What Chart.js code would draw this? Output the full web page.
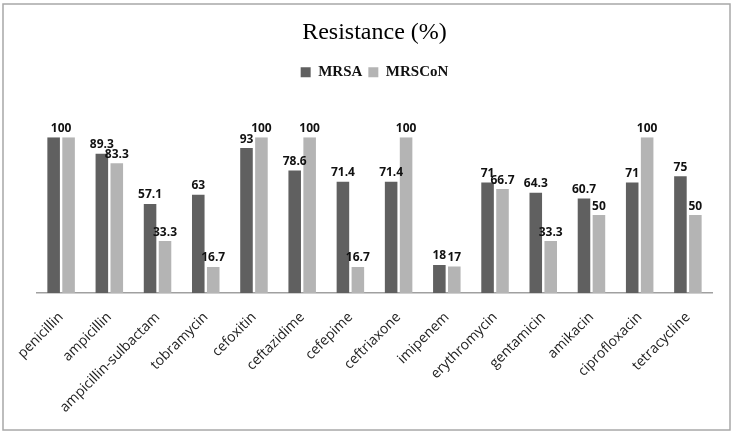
<!DOCTYPE html>
<html>
<head>
<meta charset="utf-8">
<script src="https://cdn.jsdelivr.net/npm/chart.js@4/dist/chart.umd.min.js"></script>
<style>
  html, body { margin: 0; padding: 0; background: #fff; }
  #wrap { width: 732px; height: 432px; }
</style>
</head>
<body>
<div id="wrap"><canvas id="resChart" width="732" height="432"></canvas></div>
<script>
var drugs = ['penicillin', 'ampicillin', 'ampicillin-sulbactam', 'tobramycin', 'cefoxitin',
	'ceftazidime', 'cefepime', 'ceftriaxone', 'imipenem', 'erythromycin',
	'gentamicin', 'amikacin', 'ciprofloxacin', 'tetracycline'];
var mrsa = [100, 89.3, 57.1, 63, 93, 78.6, 71.4, 71.4, 18, 71, 64.3, 60.7, 71, 75];
var mrscon = [100, 83.3, 33.3, 16.7, 100, 100, 16.7, 100, 17, 66.7, 33.3, 50, 100, 50];

var darkGrey = '#606060';
var lightGrey = '#b4b4b4';

// frame round the whole picture
var framePlugin = {
	id: 'frame',
	beforeDraw: function(chart) {
		var ctx = chart.ctx;
		ctx.save();
		ctx.fillStyle = '#fff';
		ctx.fillRect(0, 0, chart.width, chart.height);
		ctx.strokeStyle = '#a8a8a8';
		ctx.lineWidth = 1.5;
		ctx.strokeRect(3, 4, 727, 426);
		ctx.restore();
	}
};

// value labels above the bars (one shared label when both bars are equal)
var valueLabels = {
	id: 'valueLabels',
	afterDatasetsDraw: function(chart) {
		var ctx = chart.ctx;
		var a = chart.getDatasetMeta(0).data;
		var b = chart.getDatasetMeta(1).data;
		var va = chart.data.datasets[0].data;
		var vb = chart.data.datasets[1].data;
		ctx.save();
		ctx.font = 'bold 12px "Open Sans", sans-serif';
		ctx.fillStyle = '#111';
		ctx.textAlign = 'center';
		ctx.textBaseline = 'bottom';
		for(var j = 0; j < va.length; j++) {
			if(va[j] === vb[j]) {
				ctx.fillText(String(va[j]), (a[j].x + b[j].x) / 2, a[j].y - 3);
				continue;
			}
			ctx.fillText(String(va[j]), a[j].x, a[j].y - 3);
			ctx.fillText(String(vb[j]), b[j].x, b[j].y - 3);
		}
		ctx.restore();
	}
};

var context = document.getElementById('resChart').getContext('2d');

new Chart(context, {
	type: 'bar',
	data: {
		labels: drugs,
		datasets: [
			{
				label: 'MRSA',
				data: mrsa,
				backgroundColor: darkGrey,
				borderWidth: 0,
				categoryPercentage: 0.62,
				barPercentage: 0.84
			},
			{
				label: 'MRSCoN',
				data: mrscon,
				backgroundColor: lightGrey,
				borderWidth: 0,
				categoryPercentage: 0.62,
				barPercentage: 0.84
			}
		]
	},
	options: {
		responsive: false,
		animation: false,
		devicePixelRatio: 1,
		layout: {
			padding: { left: 37, right: 20, top: 0, bottom: 0 }
		},
		plugins: {
			title: {
				display: true,
				text: 'Resistance (%)',
				color: '#000',
				font: { family: '"Liberation Serif", serif', size: 24, weight: 'normal' },
				padding: { top: 18, bottom: 12 }
			},
			legend: {
				display: true,
				position: 'top',
				labels: {
					color: '#111',
					font: { family: '"Liberation Serif", serif', size: 15, weight: 'bold' },
					boxWidth: 10,
					boxHeight: 10,
					padding: 6
				}
			},
			tooltip: { enabled: false }
		},
		scales: {
			x: {
				position: 'bottom',
				grid: { display: false },
				border: { display: true, color: '#a0a0a0', width: 1.5 },
				ticks: {
					autoSkip: false,
					minRotation: 45,
					maxRotation: 45,
					padding: 8,
					color: '#222',
					font: { family: '"Open Sans", sans-serif', size: 14 }
				},
				afterFit: function(scale) { scale.height = 139; }
			},
			gap: {
				type: 'category',
				axis: 'x',
				position: 'top',
				grid: { display: false },
				border: { display: false },
				ticks: { display: false },
				afterFit: function(scale) { scale.height = 47.4; }
			},
			y: {
				display: false,
				min: 0,
				max: 100
			}
		}
	},
	plugins: [framePlugin, valueLabels]
});
</script>
</body>
</html>
